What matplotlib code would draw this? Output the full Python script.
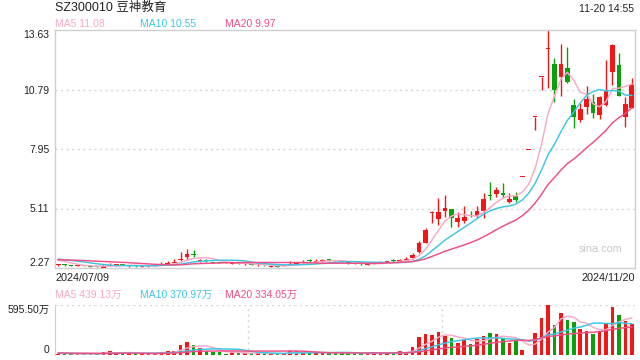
import numpy as np
import pandas as pd
import matplotlib
matplotlib.use('Agg')
from matplotlib import pyplot as plt

plt.rcParams['font.family'] = ['Liberation Sans', 'Noto Sans CJK SC', 'DejaVu Sans']

# ---- data ----
title_text = 'SZ300010 豆神教育'
stamp_text = '11-20 14:55'
first_date = '2024/07/09'
last_date = '2024/11/20'
ma_text = ['MA5 11.08', 'MA10 10.55', 'MA20 9.97']
vol_ma_text = ['MA5 439.13万', 'MA10 370.97万', 'MA20 334.05万']

opens = [2.40, 2.43, 2.40, 2.37, 2.41, 2.36, 2.34, 2.28, 2.38, 2.41,
         2.43, 2.36, 2.38, 2.34, 2.35, 2.37, 2.42, 2.47, 2.52, 2.66,
         2.78, 2.92, 2.60, 2.66, 2.56, 2.55, 2.54, 2.46, 2.50, 2.44,
         2.46, 2.39, 2.41, 2.33, 2.36, 2.37, 2.42, 2.48, 2.54, 2.64,
         2.56, 2.60, 2.68, 2.64, 2.60, 2.55, 2.50, 2.47, 2.42, 2.46,
         2.51, 2.56, 2.62, 2.60, 2.66, 2.76, 3.05, 3.48, 4.90, 4.61,
         5.00, 5.08, 4.47, 4.50, 4.77, 4.75, 4.99, 5.76, 5.80, 5.85,
         5.42, 5.70, 6.60, 7.92, 9.50, 11.40, 12.72, 12.00, 11.40, 11.80,
         10.05, 9.33, 9.97, 10.19, 9.57, 10.05, 11.64, 11.96, 9.48, 9.92]
highs = [2.46, 2.45, 2.42, 2.43, 2.43, 2.38, 2.36, 2.46, 2.50, 2.46,
         2.45, 2.43, 2.40, 2.39, 2.40, 2.46, 2.54, 2.59, 2.68, 3.05,
         3.16, 3.13, 2.70, 2.70, 2.58, 2.57, 2.55, 2.53, 2.52, 2.50,
         2.48, 2.44, 2.43, 2.38, 2.38, 2.42, 2.62, 2.58, 2.66, 2.70,
         2.68, 2.71, 2.72, 2.67, 2.62, 2.57, 2.52, 2.49, 2.47, 2.54,
         2.60, 2.62, 2.68, 2.72, 2.78, 2.98, 3.55, 4.18, 5.00, 5.63,
         5.75, 5.08, 4.96, 5.23, 4.98, 5.23, 5.83, 6.39, 6.15, 6.31,
         5.87, 5.91, 6.60, 7.92, 9.50, 11.40, 13.63, 12.29, 12.96, 12.83,
         10.34, 10.13, 10.96, 10.56, 10.50, 12.20, 12.96, 12.53, 10.45, 11.34]
lows = [2.37, 2.38, 2.36, 2.35, 2.36, 2.31, 2.30, 2.27, 2.36, 2.38,
        2.39, 2.34, 2.33, 2.32, 2.33, 2.35, 2.40, 2.45, 2.50, 2.62,
        2.66, 2.80, 2.57, 2.58, 2.51, 2.50, 2.50, 2.44, 2.45, 2.42,
        2.39, 2.37, 2.36, 2.30, 2.30, 2.35, 2.40, 2.46, 2.52, 2.57,
        2.54, 2.58, 2.62, 2.60, 2.54, 2.45, 2.45, 2.43, 2.40, 2.44,
        2.49, 2.54, 2.56, 2.58, 2.64, 2.72, 3.00, 3.45, 4.43, 4.32,
        4.72, 4.24, 4.24, 4.40, 4.70, 4.65, 4.65, 5.52, 5.67, 5.60,
        5.36, 5.44, 6.60, 7.92, 8.86, 10.77, 10.86, 10.21, 10.50, 11.10,
        8.95, 9.25, 9.61, 9.45, 9.40, 10.00, 11.00, 10.50, 9.02, 9.92]
closes = [2.43, 2.40, 2.38, 2.40, 2.38, 2.33, 2.32, 2.36, 2.42, 2.43,
          2.41, 2.38, 2.35, 2.36, 2.37, 2.40, 2.47, 2.52, 2.58, 2.72,
          2.94, 2.89, 2.63, 2.60, 2.53, 2.52, 2.52, 2.49, 2.47, 2.47,
          2.41, 2.41, 2.39, 2.35, 2.33, 2.39, 2.47, 2.52, 2.57, 2.60,
          2.59, 2.64, 2.65, 2.62, 2.56, 2.51, 2.47, 2.45, 2.44, 2.50,
          2.56, 2.58, 2.59, 2.66, 2.71, 2.89, 3.48, 4.08, 4.91, 4.94,
          5.13, 4.65, 4.65, 4.70, 4.74, 4.99, 5.56, 5.73, 6.00, 5.75,
          5.56, 5.50, 6.60, 7.92, 9.50, 11.40, 12.74, 10.77, 12.00, 11.16,
          9.49, 9.86, 10.34, 9.68, 10.45, 10.75, 12.90, 10.50, 10.10, 11.00]
# volume in 万
volumes = [12, 12, 12, 12, 12, 20, 12, 32, 52, 20,
           20, 24, 20, 12, 12, 12, 40, 52, 52, 125,
           149, 125, 85, 44, 40, 32, 16, 32, 24, 20,
           20, 24, 20, 8, 12, 20, 52, 44, 24, 28,
           32, 32, 28, 24, 24, 20, 20, 8, 20, 36,
           20, 20, 28, 48, 24, 100, 213, 246, 234, 270,
           230, 197, 141, 173, 129, 185, 222, 258, 250, 206,
           141, 181, 64, 4, 258, 439, 595.5, 355, 500, 415,
           391, 306, 282, 250, 282, 375, 576, 480, 407, 367]

# closes / volumes before the first shown day, only used to start the MA lines
prev_closes = [2.55, 2.58, 2.60, 2.62, 2.63, 2.65, 2.66, 2.68, 2.70, 2.70,
               2.72, 2.73, 2.74, 2.75, 2.76, 2.74, 2.72, 2.70, 2.66]
prev_volumes = [26, 24, 28, 25, 22, 26, 24, 23, 25, 27,
                24, 22, 25, 26, 24, 23, 22, 24, 22]

red = '#f31616'
green = '#0b9f0b'
ma_colors = ['#f9a9c6', '#3dc5e4', '#ee4d86']
grid_c = '#d6d6d6'
frame_c = '#cfcfcf'
text_c = '#222222'

n = len(closes)
x = np.arange(n)
o = np.array(opens)
c = np.array(closes)
up = c >= o
cols = [red if u else green for u in up]

fig = plt.figure(figsize=(6.4, 3.6), dpi=100)
W, H = 640, 360


def box(l, t, r, b):
    return [l / W, 1 - b / H, (r - l) / W, (b - t) / H]


ax = fig.add_axes(box(55, 30, 635, 268))
axv = fig.add_axes(box(55, 305, 635, 355))

# candles
ax.vlines(x, lows, highs, colors=cols, linewidth=1.0, zorder=2)
body_h = np.maximum(np.abs(c - o), 0.04)
ax.bar(x, body_h, bottom=np.minimum(o, c), width=0.72, color=cols,
       linewidth=0, zorder=3)

# price MAs
all_c = pd.Series(prev_closes + closes)
for p, col in zip([5, 10, 20], ma_colors):
    ma = all_c.rolling(p, min_periods=1).mean().iloc[len(prev_closes):].values
    ax.plot(x, ma, color=col, linewidth=1.05, zorder=4)

lo, hi = min(lows), max(highs)
ax.set_xlim(-0.5, n - 0.5)
ax.set_ylim(lo, hi)
yt = np.linspace(lo, hi, 5)
ax.set_yticks(yt)
ax.set_yticklabels([f'{v:.2f}' for v in yt])
labs = ax.get_yticklabels()
labs[0].set_va('bottom')
labs[-1].set_va('top')
ax.set_xticks([])
ax.tick_params(axis='y', length=0, pad=4, labelsize=7.5, labelcolor=text_c)
for v in yt[1:-1]:
    ax.axhline(v, color=grid_c, linewidth=1.0, linestyle=(0, (1.5, 2.5)), zorder=1)
for s in ax.spines.values():
    s.set_color(frame_c)
    s.set_linewidth(1.0)

ax.text(0.94, 0.08, 'sina.com', transform=ax.transAxes, ha='center',
        va='center', fontsize=7.8, color='#c8c8c8')

# volume panel
axv.bar(x, volumes, width=0.55, color=cols, linewidth=0, zorder=2)
all_v = pd.Series(prev_volumes + volumes)
for p, col in zip([5, 10, 20], ma_colors):
    ma = all_v.rolling(p, min_periods=1).mean().iloc[len(prev_volumes):].values
    axv.plot(x, ma, color=col, linewidth=1.05, zorder=3)
vmax = max(volumes)
axv.set_xlim(-0.5, n - 0.5)
axv.set_ylim(0, vmax)
axv.set_yticks([0, vmax])
axv.set_yticklabels(['0', f'{vmax:.2f}万'])
vl = axv.get_yticklabels()
vl[0].set_va('bottom')
vl[1].set_va('top')
axv.set_xticks([])
axv.tick_params(axis='y', length=0, pad=4, labelsize=7.5, labelcolor=text_c)
for s in ['top', 'bottom', 'right']:
    axv.spines[s].set_visible(False)
axv.spines['left'].set_color(frame_c)
dots = (0, (1.5, 2.5))
axv.axhline(vmax, color=grid_c, linewidth=1.0, linestyle=dots, zorder=1)
axv.axhline(0, color=grid_c, linewidth=1.0, linestyle=dots, zorder=1)
for xv in [-0.5 + n / 3, -0.5 + 2 * n / 3, n - 0.5]:
    axv.axvline(xv, color=grid_c, linewidth=1.0, linestyle=dots, zorder=1)

# header texts
fig.text(55 / W, 1 - 8 / H, title_text, fontsize=9, color='#222222', va='center')
fig.text(634 / W, 1 - 9 / H, stamp_text, fontsize=7.5, color=text_c,
         ha='right', va='center')
for xp, t, col in zip([55, 140, 225], ma_text, ma_colors):
    fig.text(xp / W, 1 - 24 / H, t, fontsize=7.5, color=col, va='center')
for xp, t, col in zip([55, 140, 225], vol_ma_text, ma_colors):
    fig.text(xp / W, 1 - 295 / H, t, fontsize=7.5, color=col, va='center')
fig.text(55 / W, 1 - 278 / H, first_date, fontsize=7.8, color='#222222', va='center')
fig.text(635 / W, 1 - 278 / H, last_date, fontsize=7.8, color='#222222',
         ha='right', va='center')

fig.savefig('out.png', dpi=100)
